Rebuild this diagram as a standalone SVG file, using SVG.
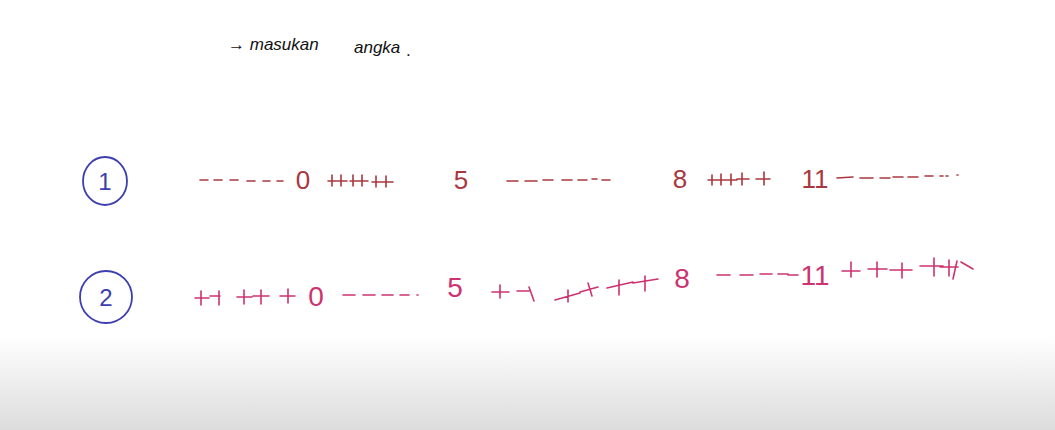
<svg xmlns="http://www.w3.org/2000/svg" width="1055" height="430" viewBox="0 0 1055 430">
<defs>
<linearGradient id="bg" x1="0" y1="0" x2="0" y2="1">
<stop offset="0" stop-color="#ffffff"/>
<stop offset="1" stop-color="#dcdcdc"/>
</linearGradient>
</defs>
<style>
.ink{fill:none;stroke-linecap:round;stroke-linejoin:round;stroke-width:1.6}
.r1{stroke:#a8383f}
.r2{stroke:#cc3370}
.blue{stroke:#3d3fae;fill:none;stroke-width:1.8}
.t1{fill:#a8383f;font-family:"Liberation Sans",sans-serif;font-size:26px}
.t2{fill:#cc3370;font-family:"Liberation Sans",sans-serif;font-size:28px}
.tb{fill:#3d3fae;font-family:"Liberation Sans",sans-serif;font-size:24px}
.note{fill:#111;font-family:"Liberation Sans",sans-serif;font-size:17px}
</style>
<rect width="1055" height="430" fill="#ffffff"/>
<rect x="0" y="335" width="1055" height="95" fill="url(#bg)"/>

<g id="note">
<text class="note" x="228" y="50" font-style="italic">→ masukan</text>
<text class="note" x="354" y="53" font-style="italic">angka</text>
<text class="note" x="406" y="56">.</text>
</g>

<g id="row1">
<g id="label1">
<ellipse class="blue" cx="105" cy="181" rx="22" ry="24"/>
<text class="tb" x="105" y="190" text-anchor="middle">1</text>
</g>
<path class="ink r1" d="M200 180h8M214 180h8M230 180h8M247 181h8M263 181h7M277 181h6"/>
<text class="t1" x="303" y="189" text-anchor="middle">0</text>
<path class="ink r1" d="M328 181h9M332 175v11M338 181h9M341 175v11M350 181h8M353 175v11M358 181h10M362 175v11M372 182h10M376 176v11M382 182h11M386 176v11"/>
<text class="t1" x="461" y="189" text-anchor="middle">5</text>
<path class="ink r1" d="M507 181h11M525 181h12M543 180h10M562 180h10M578 180h9M592 179h5M602 180h8"/>
<text class="t1" x="680" y="188" text-anchor="middle">8</text>
<path class="ink r1" d="M708 180h9M712 175v10M717 180h10M721 174v11M727 180h10M731 174v11M737 179h12M742 173v12M756 179h14M764 172v13"/>
<text class="t1" x="815" y="188" text-anchor="middle">11</text>
<path class="ink r1" d="M837 178l16-1M860 178h13M880 178h10M893 177h10M908 177h10M925 176h8M940 176h3M946 176h2M957 175h1"/>
</g>

<g id="row2">
<g id="label2">
<ellipse class="blue" cx="106" cy="297" rx="26" ry="26"/>
<text class="tb" x="106" y="306" text-anchor="middle">2</text>
</g>
<path class="ink r2" d="M195 298h14M201 291v14M210 296h10M219 291v14M237 297h15M244 290v14M253 296h16M261 290v14M280 296h15M288 289v14"/>
<text class="t2" x="316" y="306" text-anchor="middle">0</text>
<path class="ink r2" d="M343 295h12M363 295h12M382 295h11M400 295h9M417 295h1"/>
<text class="t2" x="455" y="297" text-anchor="middle">5</text>
<path class="ink r2" d="M492 292h17M500 285v13M517 291h12M529 287l5 14M555 300l25-7M568 290v12M580 292l18-5M588 283l4 13M607 288l26-6M619 280v15M633 283l25-4M645 276v15"/>
<text class="t2" x="682" y="288" text-anchor="middle">8</text>
<path class="ink r2" d="M717 275h13M740 275h13M760 274h12M778 274h10M788 275h10"/>
<text class="t2" x="815" y="285" text-anchor="middle">11</text>
<path class="ink r2" d="M842 271h18M851 262v15M868 269h19M877 262v15M890 270h22M902 263v15M920 266h23M934 258v18M940 267h18M949 260v16M957 261l-4 18M961 262l12 7"/>
</g>
</svg>
